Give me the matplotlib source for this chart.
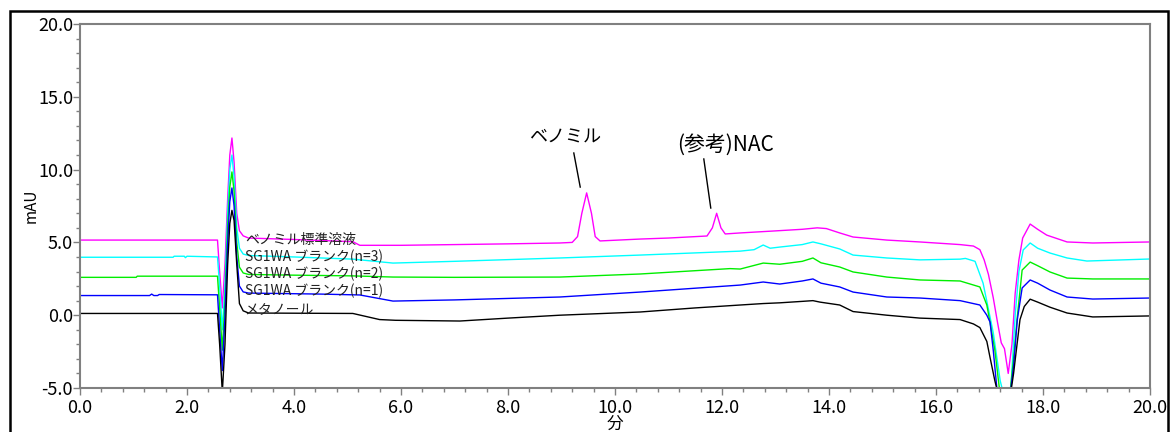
import matplotlib
matplotlib.use("Agg")
import matplotlib.pyplot as plt
from matplotlib.patches import Rectangle
from matplotlib.ticker import MultipleLocator, FormatStrFormatter

plt.rcParams['font.family'] = ['Noto Sans CJK JP', 'DejaVu Sans']

# --- data (time in min, signal in mAU) ---
t_std = [0, 2.57, 2.61, 2.66, 2.71, 2.76, 2.80, 2.84, 2.88, 2.93, 2.98, 3.05, 3.15, 4.0, 5.1,
         5.23, 6.0, 7.0, 8.0, 8.97, 9.2, 9.3, 9.38, 9.47, 9.56, 9.63, 9.72, 10.47, 11.0, 11.72,
         11.82, 11.9, 11.98, 12.06, 12.34, 12.95, 13.5, 13.78, 13.95, 14.2, 14.45, 15.08, 15.7,
         16.45, 16.7, 16.82, 16.9, 16.98, 17.07, 17.15, 17.22, 17.28, 17.35, 17.42, 17.48, 17.55,
         17.62, 17.76, 17.9, 18.07, 18.45, 18.93, 20.0]
v_std = [5.16, 5.16, 3.0, 0.5, 3.5, 8.0, 11.0, 12.17, 10.5, 7.0, 5.8, 5.45, 5.3, 5.2, 5.05,
         4.8, 4.8, 4.85, 4.9, 4.96, 5.0, 5.4, 7.0, 8.4, 7.0, 5.4, 5.1, 5.23, 5.3, 5.44,
         6.0, 7.0, 6.0, 5.58, 5.65, 5.78, 5.9, 6.0, 5.95, 5.65, 5.37, 5.16, 5.03,
         4.85, 4.75, 4.5, 3.8, 2.8, 1.2, -0.5, -1.9, -2.3, -4.0, -2.0, 1.5, 3.8,
         5.3, 6.26, 5.9, 5.5, 5.03, 4.96, 5.03]

t_n3 = [0, 1.74, 1.76, 1.95, 1.97, 2.0, 2.57, 2.61, 2.66, 2.71, 2.76, 2.80, 2.84, 2.88, 2.93,
        2.98, 3.05, 3.15, 4.0, 5.1, 5.85, 7.0, 8.97, 10.47, 12.34, 12.6, 12.77, 12.9, 13.08,
        13.5, 13.7, 13.85, 14.2, 14.45, 15.08, 15.7, 16.45, 16.55, 16.73, 16.88, 17.07, 17.2,
        17.3, 17.4, 17.48, 17.55, 17.63, 17.76, 17.9, 18.13, 18.45, 18.82, 20.0]
v_n3 = [3.98, 3.98, 4.05, 4.05, 3.95, 4.05, 4.0, 2.0, -1.0, 2.0, 7.0, 10.0, 11.0, 9.5, 6.0,
        4.6, 4.2, 4.1, 4.0, 3.85, 3.58, 3.7, 3.93, 4.13, 4.4, 4.5, 4.82, 4.6, 4.68,
        4.85, 5.03, 4.9, 4.55, 4.13, 3.93, 3.8, 3.85, 3.9, 3.7, 2.2, -1.2, -4.5,
        -6.0, -5.0, 0.0, 3.0, 4.48, 4.96, 4.6, 4.27, 3.93, 3.72, 3.86]

t_n2 = [0, 1.05, 1.07, 2.57, 2.61, 2.66, 2.71, 2.76, 2.80, 2.84, 2.88, 2.93, 2.98, 3.05, 3.15,
        4.0, 5.1, 5.85, 7.0, 8.97, 10.47, 12.15, 12.34, 12.77, 13.08, 13.5, 13.7, 13.85, 14.2,
        14.45, 15.08, 15.7, 16.45, 16.82, 16.95, 17.01, 17.1, 17.2, 17.35, 17.45, 17.52, 17.61,
        17.76, 17.9, 18.13, 18.45, 18.93, 20.0]
v_n2 = [2.6, 2.6, 2.68, 2.68, 0.5, -2.4, 1.0, 6.0, 8.8, 9.84, 8.5, 5.0, 3.3, 2.9, 2.8,
        2.75, 2.7, 2.62, 2.6, 2.62, 2.83, 3.2, 3.17, 3.58, 3.5, 3.7, 3.93, 3.6, 3.31,
        2.97, 2.62, 2.42, 2.35, 1.94, 0.7, -0.5, -2.4, -5.5, -6.5, -3.0, -0.1, 3.1,
        3.65, 3.4, 2.97, 2.55, 2.49, 2.49]

t_n1 = [0, 1.3, 1.34, 1.38, 1.45, 1.48, 2.57, 2.61, 2.66, 2.71, 2.76, 2.80, 2.84, 2.88, 2.93,
        2.98, 3.05, 3.15, 4.5, 5.23, 5.85, 7.0, 8.97, 10.47, 12.34, 12.77, 13.08, 13.5, 13.7,
        13.85, 14.2, 14.45, 15.08, 15.7, 16.45, 16.82, 16.95, 17.01, 17.07, 17.15, 17.35, 17.45,
        17.52, 17.61, 17.76, 17.9, 18.13, 18.45, 18.93, 20.0]
v_n1 = [1.35, 1.35, 1.45, 1.35, 1.35, 1.42, 1.4, -1.0, -3.8, 0.0, 5.0, 7.8, 8.74, 7.5, 4.0,
        2.0, 1.6, 1.52, 1.45, 1.39, 0.97, 1.05, 1.25, 1.59, 2.07, 2.28, 2.14, 2.35, 2.49,
        2.2, 1.94, 1.59, 1.25, 1.18, 1.0, 0.7, 0.0, -0.47, -2.4, -5.5, -6.5, -3.5,
        -0.3, 1.87, 2.42, 2.2, 1.73, 1.25, 1.11, 1.18]

t_meoh = [0, 2.57, 2.61, 2.66, 2.71, 2.76, 2.80, 2.84, 2.88, 2.93, 2.98, 3.05, 3.15, 5.1, 5.6,
          5.9, 7.1, 8.0, 8.97, 10.47, 11.5, 12.34, 12.77, 13.08, 13.5, 13.7, 13.83, 14.2, 14.45,
          15.08, 15.7, 16.45, 16.7, 16.82, 16.95, 17.01, 17.1, 17.2, 17.35, 17.45, 17.57, 17.65,
          17.76, 17.9, 18.13, 18.45, 18.93, 20.0]
v_meoh = [0.12, 0.12, -2.0, -5.3, -2.0, 3.5, 6.3, 7.2, 6.5, 3.5, 0.8, 0.3, 0.15, 0.12, -0.3,
          -0.35, -0.4, -0.2, 0.0, 0.22, 0.5, 0.7, 0.8, 0.85, 0.95, 1.0, 0.9, 0.7, 0.25,
          0.0, -0.2, -0.3, -0.6, -0.85, -1.8, -2.9, -4.5, -6.0, -6.5, -4.0, -0.3, 0.6,
          1.1, 0.9, 0.55, 0.15, -0.12, -0.05]

trace_names = ['ベノミル標準溶液', 'SG1WA ブランク(n=3)', 'SG1WA ブランク(n=2)',
               'SG1WA ブランク(n=1)', 'メタノール']
trace_label_y = [5.2, 4.0, 2.83, 1.66, 0.36]

traces = [(t_std, v_std, '#ff00ff'), (t_n3, v_n3, '#00ffff'), (t_n2, v_n2, '#00ee00'),
          (t_n1, v_n1, '#0000ff'), (t_meoh, v_meoh, '#000000')]

fig = plt.figure(figsize=(11.71, 4.32), dpi=100)
ax = fig.add_axes([80 / 1171, 44 / 432, 1070 / 1171, 364 / 432])

for t, v, c in traces:
    ax.plot(t, v, color=c, linewidth=1.0)

for name, ly in zip(trace_names, trace_label_y):
    ax.text(3.08, ly, name, fontsize=10, va='center', ha='left', color='#222222')

# peak annotations
ax.plot([9.23, 9.35], [11.14, 8.8], color='black', linewidth=1.0)
ax.text(9.07, 12.17, 'ベノミル', fontsize=13, ha='center', va='center')
ax.plot([11.66, 11.79], [10.73, 7.36], color='black', linewidth=1.0)
ax.text(12.06, 11.69, '(参考)NAC', fontsize=15, ha='center', va='center')

ax.set_xlim(0, 20)
ax.set_ylim(-5, 20)
ax.xaxis.set_major_locator(MultipleLocator(2))
ax.xaxis.set_minor_locator(MultipleLocator(0.4))
ax.yaxis.set_major_locator(MultipleLocator(5))
ax.yaxis.set_minor_locator(MultipleLocator(1))
ax.xaxis.set_major_formatter(FormatStrFormatter('%.1f'))
ax.yaxis.set_major_formatter(FormatStrFormatter('%.1f'))
ax.tick_params(which='major', length=5, width=1, color='#808080', labelsize=13)
ax.tick_params(axis='x', which='major', pad=3)
ax.tick_params(axis='y', which='major', pad=0)
ax.tick_params(which='minor', length=3, width=1, color='#808080')
for s in ax.spines.values():
    s.set_color('#808080')
    s.set_linewidth(1.5)

ax.set_ylabel('mAU', fontsize=11)
ax.yaxis.set_label_coords(-0.046, 0.5)
ax.set_xlabel('分', fontsize=12)
ax.xaxis.set_label_coords(0.5, -0.1)
ax.xaxis.label.set_va('center')
ax.yaxis.label.set_va('center')

# outer frame of the exported image
fig.patches.append(Rectangle((10 / 1171, -0.05), 1158 / 1171, (421 / 432) + 0.05,
                             transform=fig.transFigure, fill=False,
                             edgecolor='black', linewidth=1.8))

fig.savefig('out.png', dpi=100)
